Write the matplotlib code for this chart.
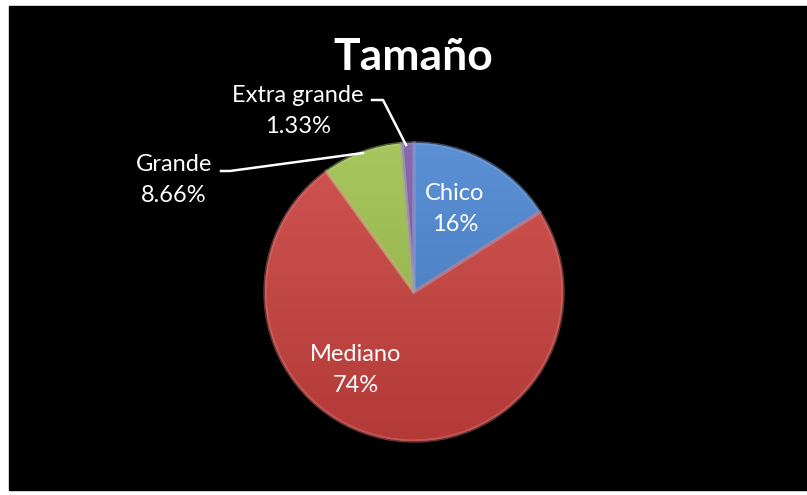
import matplotlib.pyplot as plt
import matplotlib.colors as mcolors
from matplotlib.patches import Wedge
import numpy as np

plt.rcParams['font.family'] = ['Lato', 'DejaVu Sans']

# datos del gráfico
categorias = ['Chico', 'Mediano', 'Grande', 'Extra grande']
porcentajes = [16, 74, 8.66, 1.33]
colores = ['#4a84d0', '#cb423f', '#9dc04c', '#7b5aa6']
titulo = 'Tamaño'

W, H = 807, 495
fig = plt.figure(figsize=(W / 100, H / 100), dpi=100, facecolor='white')
ax = fig.add_axes([0, 0, 1, 1])

# fondo negro
ax.add_patch(plt.Rectangle((9, 5), W - 9, H - 11, color='black', zorder=0))

cx, cy, r = 414, H - 292, 149
wedges, _ = ax.pie(porcentajes, colors=colores, startangle=90, counterclock=False,
                   center=(cx, cy), radius=r, frame=True,
                   wedgeprops=dict(linewidth=0))

# sombreado suave en cada porción
yy = np.linspace(1, 0, 256)[:, None]
for w, c in zip(wedges, colores):
    base = np.array(mcolors.to_rgb(c))
    claro = base + (1 - base) * 0.10
    oscuro = base * 0.88
    grad = claro[None, None, :] * yy[..., None] + oscuro[None, None, :] * (1 - yy[..., None])
    grad = np.repeat(grad, 2, axis=1)
    im = ax.imshow(grad, extent=(cx - r, cx + r, cy - r, cy + r), zorder=2,
                   interpolation='bilinear', aspect='auto')
    im.set_clip_path(w)
    w.set_zorder(1)
    # borde biselado
    ax.add_patch(Wedge((cx, cy), r, w.theta1, w.theta2, width=r,
                       facecolor='none', edgecolor=claro + (1 - claro) * 0.2,
                       linewidth=2.5, alpha=0.45, zorder=3))

ax.set_xlim(0, W)
ax.set_ylim(0, H)
ax.set_aspect('equal')
ax.axis('off')

ax.text(413, H - 57, titulo, color='white', fontsize=32, fontweight='bold',
        ha='center', va='center')

posiciones = [(455, 209), (356, 370), (174, 180), (298, 111)]
for nombre, p, (x, y) in zip(categorias, porcentajes, posiciones):
    ax.text(x, H - y, '{}\n{:g}%'.format(nombre, p), color='white', fontsize=17,
            ha='center', va='center', linespacing=1.6, zorder=5)

# líneas guía
ax.plot([221, 230, 363], [H - 171, H - 171, H - 153], color='white', lw=1.8, zorder=4)
ax.plot([372, 383, 406], [H - 100, H - 100, H - 145], color='white', lw=1.8, zorder=4)

fig.savefig('out.png', dpi=100, facecolor='white')
